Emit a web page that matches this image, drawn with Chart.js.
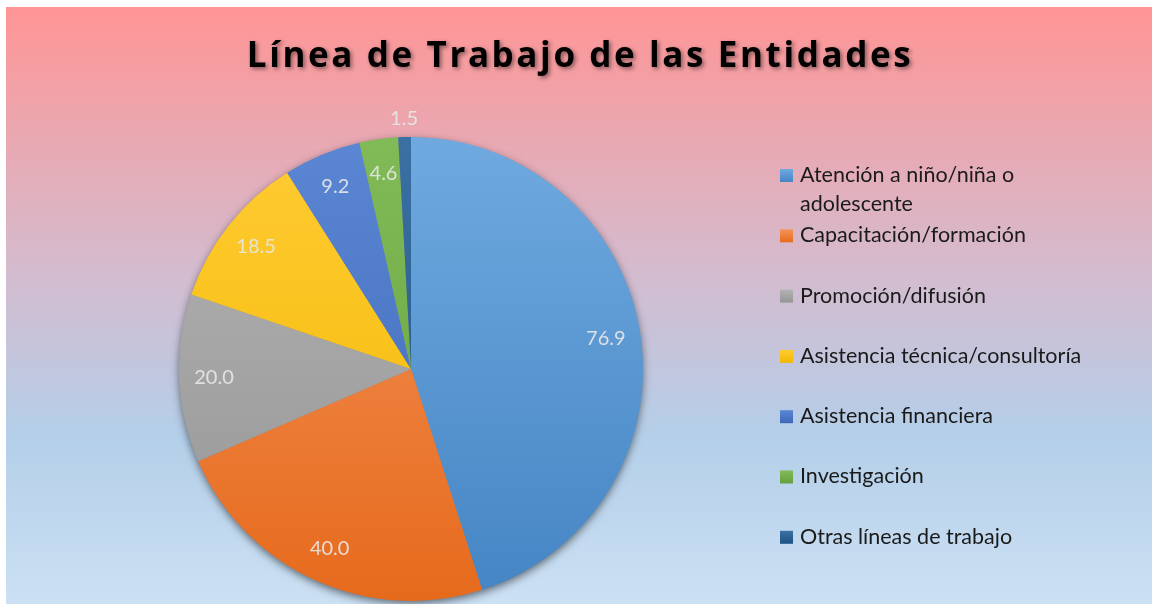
<!DOCTYPE html>
<html>
<head>
<meta charset="utf-8">
<script src="https://cdn.jsdelivr.net/npm/chart.js@4.4.1/dist/chart.umd.min.js"></script>
<style>
  html, body { margin: 0; padding: 0; background: #fff; }
  #wrap { position: relative; width: 1152px; height: 604px; }
</style>
</head>
<body>
<div id="wrap"><canvas id="myChartView" width="1152" height="604"></canvas></div>
<script>
const chartTitle = 'Línea de Trabajo de las Entidades';
const categories = [
  ['Atención a niño/niña o', 'adolescente'],
  'Capacitación/formación',
  'Promoción/difusión',
  'Asistencia técnica/consultoría',
  'Asistencia financiera',
  'Investigación',
  'Otras líneas de trabajo'
];
const values = [76.9, 40.0, 20.0, 18.5, 9.2, 4.6, 1.5];
// light top / dark bottom of each slice
const colorsTop = ['#6fa9df', '#f4945c', '#b3b3b3', '#ffcb33', '#5a86d3', '#80bb57', '#3a70a3'];
const colorsBottom = ['#4585c4', '#e66a1c', '#959595', '#f2b700', '#3d68b8', '#66a03e', '#1f5283'];

const pageBackground = {
    id: 'pageBackground',
    beforeDraw(chart) {
        const c = chart.ctx;
        const g = c.createLinearGradient(0, 7, 0, 604);
        g.addColorStop(0, '#ff9595');
        g.addColorStop(0.45, '#d3bccf');
        g.addColorStop(0.72, '#b4cfe9');
        g.addColorStop(1, '#cbe0f3');
        c.save();
        c.fillStyle = g;
        c.fillRect(6, 7, chart.width - 6, chart.height - 7);
        c.restore();
    }
};

const pieShadow = {
    id: 'pieShadow',
    beforeDatasetsDraw(chart) {
        const arc = chart.getDatasetMeta(0).data[0];
        if (!arc) return;
        const c = chart.ctx;
        c.save();
        c.shadowColor = 'rgba(0,0,0,0.55)';
        c.shadowBlur = 9;
        c.shadowOffsetX = 0;
        c.shadowOffsetY = 3;
        c.fillStyle = '#888';
        c.beginPath();
        c.arc(arc.x, arc.y, arc.outerRadius - 0.5, 0, Math.PI * 2);
        c.fill();
        c.restore();
    }
};

const sliceLabels = {
    id: 'sliceLabels',
    afterDatasetsDraw(chart) {
        const c = chart.ctx;
        const meta = chart.getDatasetMeta(0);
        const total = values.reduce((a, b) => a + b, 0);
        c.save();
        c.font = '20px Lato, "Open Sans", sans-serif';
        c.fillStyle = 'rgba(230,230,230,0.92)';
        c.textAlign = 'center';
        c.textBaseline = 'middle';
        meta.data.forEach((arc, i) => {
            const mid = (arc.startAngle + arc.endAngle) / 2;
            const f = values[i] / total < 0.02 ? 1.08 : 0.85;
            const x = arc.x + Math.cos(mid) * arc.outerRadius * f;
            const y = arc.y + Math.sin(mid) * arc.outerRadius * f;
            c.fillText(values[i].toFixed(1), x, y);
        });
        c.restore();
    }
};

const titleAndLegend = {
    id: 'titleAndLegend',
    afterDraw(chart) {
        const c = chart.ctx;
        c.save();
        // title
        c.font = 'bold 35px "Open Sans", sans-serif';
        c.letterSpacing = '2.6px';
        c.textAlign = 'center';
        c.textBaseline = 'middle';
        c.shadowColor = 'rgba(0,0,0,0.45)';
        c.shadowBlur = 4;
        c.shadowOffsetX = 2;
        c.shadowOffsetY = 2;
        c.fillStyle = '#000';
        c.fillText(chartTitle, 580, 57);
        c.restore();

        // legend
        c.save();
        c.font = '21.5px Lato, "Open Sans", sans-serif';
        c.textBaseline = 'middle';
        c.textAlign = 'left';
        categories.forEach((cat, i) => {
            const y = 175 + i * 60.3;
            const g = c.createLinearGradient(0, y - 6, 0, y + 7);
            g.addColorStop(0, colorsTop[i]);
            g.addColorStop(1, colorsBottom[i]);
            c.fillStyle = g;
            c.fillRect(780, y - 6, 13, 13);
            c.fillStyle = '#1a1a1a';
            const lines = Array.isArray(cat) ? cat : [cat];
            lines.forEach((ln, k) => c.fillText(ln, 800, y + k * 29));
        });
        c.restore();
    }
};

const ctx1 = document.getElementById('myChartView');
const myChartView = new Chart(ctx1, {
    type: 'pie',
    data: {
        labels: categories,
        datasets: [{
            data: values,
            borderWidth: 0,
            backgroundColor: (context) => {
                const area = context.chart.chartArea;
                if (!area) return colorsTop[context.dataIndex];
                const g = context.chart.ctx.createLinearGradient(0, area.top, 0, area.bottom);
                g.addColorStop(0, colorsTop[context.dataIndex]);
                g.addColorStop(1, colorsBottom[context.dataIndex]);
                return g;
            }
        }]
    },
    options: {
        responsive: false,
        animation: false,
        layout: { padding: { left: 178, right: 508, top: 137, bottom: 3 } },
        plugins: {
            legend: { display: false },
            title: { display: false },
            tooltip: { enabled: false }
        }
    },
    plugins: [pageBackground, pieShadow, sliceLabels, titleAndLegend]
});
</script>
</body>
</html>
